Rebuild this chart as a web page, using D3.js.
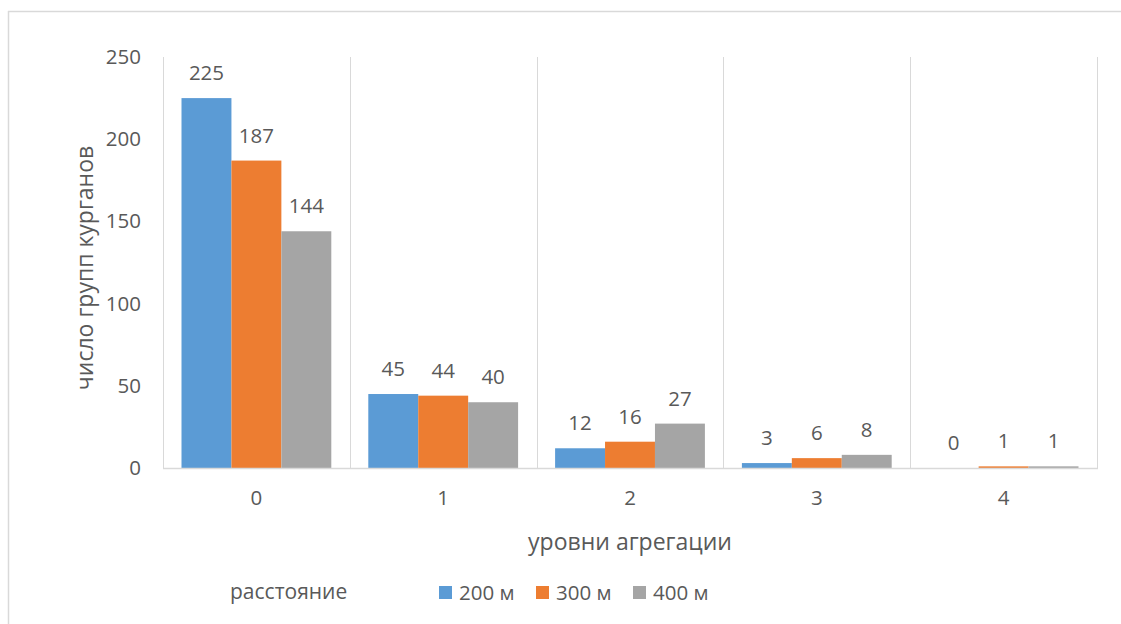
<!DOCTYPE html>
<html>
<head>
<meta charset="utf-8">
<script src="https://cdn.jsdelivr.net/npm/d3@7"></script>
<style>
  html, body { margin: 0; padding: 0; background: #fff; }
  svg { display: block; }
  text { font-family: "Open Sans", Lato, sans-serif; fill: #595959; }
</style>
</head>
<body>
<svg id="chart" width="1121" height="624"></svg>
<script>
// Aggregation levels and number of kurgan groups per distance threshold
const categories = ["0", "1", "2", "3", "4"];
const seriesNames = ["200 м", "300 м", "400 м"];
const values200 = [225, 45, 12, 3, 0];
const values300 = [187, 44, 16, 6, 1];
const values400 = [144, 40, 27, 8, 1];
const yTicks = [0, 50, 100, 150, 200, 250];
const colors = ["#5b9bd5", "#ed7d31", "#a5a5a5"];

const seriesValues = [values200, values300, values400];
const rows = categories.map((c, i) => ({
  cat: c,
  vals: seriesNames.map((s, j) => ({ key: s, value: seriesValues[j][i], color: colors[j] }))
}));

const svg = d3.select("#chart");
const FONT = "'Open Sans', Lato, sans-serif";
const NUM_SIZE = "20.5px";

// chart frame (left and top edges)
svg.append("line").attr("x1", 8.5).attr("x2", 8.5).attr("y1", 11).attr("y2", 624)
  .attr("stroke", "#d9d9d9").attr("stroke-width", 1.5);
svg.append("line").attr("x1", 8).attr("x2", 1121).attr("y1", 11.5).attr("y2", 11.5)
  .attr("stroke", "#d9d9d9").attr("stroke-width", 1.5);

const plot = { left: 163, right: 1097, top: 57, bottom: 468 };

const x0 = d3.scaleBand().domain(categories).range([plot.left, plot.right]).paddingInner(0).paddingOuter(0);
const innerPad = 18.5;
const x1 = d3.scaleBand().domain(seriesNames).range([innerPad, x0.bandwidth() - innerPad]).padding(0);
const y = d3.scaleLinear().domain([0, 250]).range([plot.bottom, plot.top]);

// vertical separators between categories
const bounds = categories.map(c => x0(c)).concat([plot.right]);
svg.append("g").selectAll("line").data(bounds).join("line")
  .attr("x1", d => Math.round(d) + 0.5).attr("x2", d => Math.round(d) + 0.5)
  .attr("y1", plot.top).attr("y2", plot.bottom)
  .attr("stroke", "#d9d9d9").attr("stroke-width", 1);

// bars
const groups = svg.append("g").selectAll("g").data(rows).join("g")
  .attr("transform", d => `translate(${x0(d.cat)},0)`);

groups.selectAll("rect").data(d => d.vals).join("rect")
  .attr("x", d => x1(d.key))
  .attr("width", x1.bandwidth())
  .attr("y", d => y(d.value))
  .attr("height", d => y(0) - y(d.value))
  .attr("fill", d => d.color);

// value labels
groups.selectAll("text").data(d => d.vals).join("text")
  .attr("x", d => x1(d.key) + x1.bandwidth() / 2)
  .attr("y", d => y(d.value) - 18)
  .attr("text-anchor", "middle")
  .style("font-size", NUM_SIZE)
  .text(d => d.value);

// baseline
svg.append("line").attr("x1", plot.left).attr("x2", plot.right + 1)
  .attr("y1", plot.bottom + 0.5).attr("y2", plot.bottom + 0.5)
  .attr("stroke", "#d9d9d9").attr("stroke-width", 1.5);

// y axis tick labels
const yAxis = d3.axisLeft(y).tickValues(yTicks).tickSize(0).tickPadding(0);
const yg = svg.append("g").attr("transform", `translate(141,0)`).call(yAxis);
yg.select(".domain").remove();
yg.selectAll("text").style("font-size", NUM_SIZE).attr("fill", "#595959")
  .style("font-family", FONT);

// x axis category labels
const xAxis = d3.axisBottom(x0).tickSize(0).tickPadding(0);
const xg = svg.append("g").attr("transform", `translate(0,${plot.bottom + 22})`).call(xAxis);
xg.select(".domain").remove();
xg.selectAll("text").style("font-size", NUM_SIZE).attr("fill", "#595959")
  .style("font-family", FONT);

// axis titles
svg.append("text")
  .attr("transform", "translate(93,268) rotate(-90)")
  .attr("text-anchor", "middle")
  .style("font-size", "23px")
  .text("число групп курганов");

svg.append("text")
  .attr("x", 630).attr("y", 550)
  .attr("text-anchor", "middle")
  .style("font-size", "23px")
  .text("уровни агрегации");

// legend
svg.append("text")
  .attr("x", 230).attr("y", 599)
  .style("font-size", "21px")
  .text("расстояние");

const legendX = [439, 536, 633];
const lg = svg.append("g").selectAll("g").data(seriesNames).join("g")
  .attr("transform", (d, i) => `translate(${legendX[i]},586)`);
lg.append("rect").attr("width", 13).attr("height", 13).attr("fill", (d, i) => colors[i]);
lg.append("text").attr("x", 20).attr("y", 14)
  .style("font-size", NUM_SIZE).text(d => d);
</script>
</body>
</html>
